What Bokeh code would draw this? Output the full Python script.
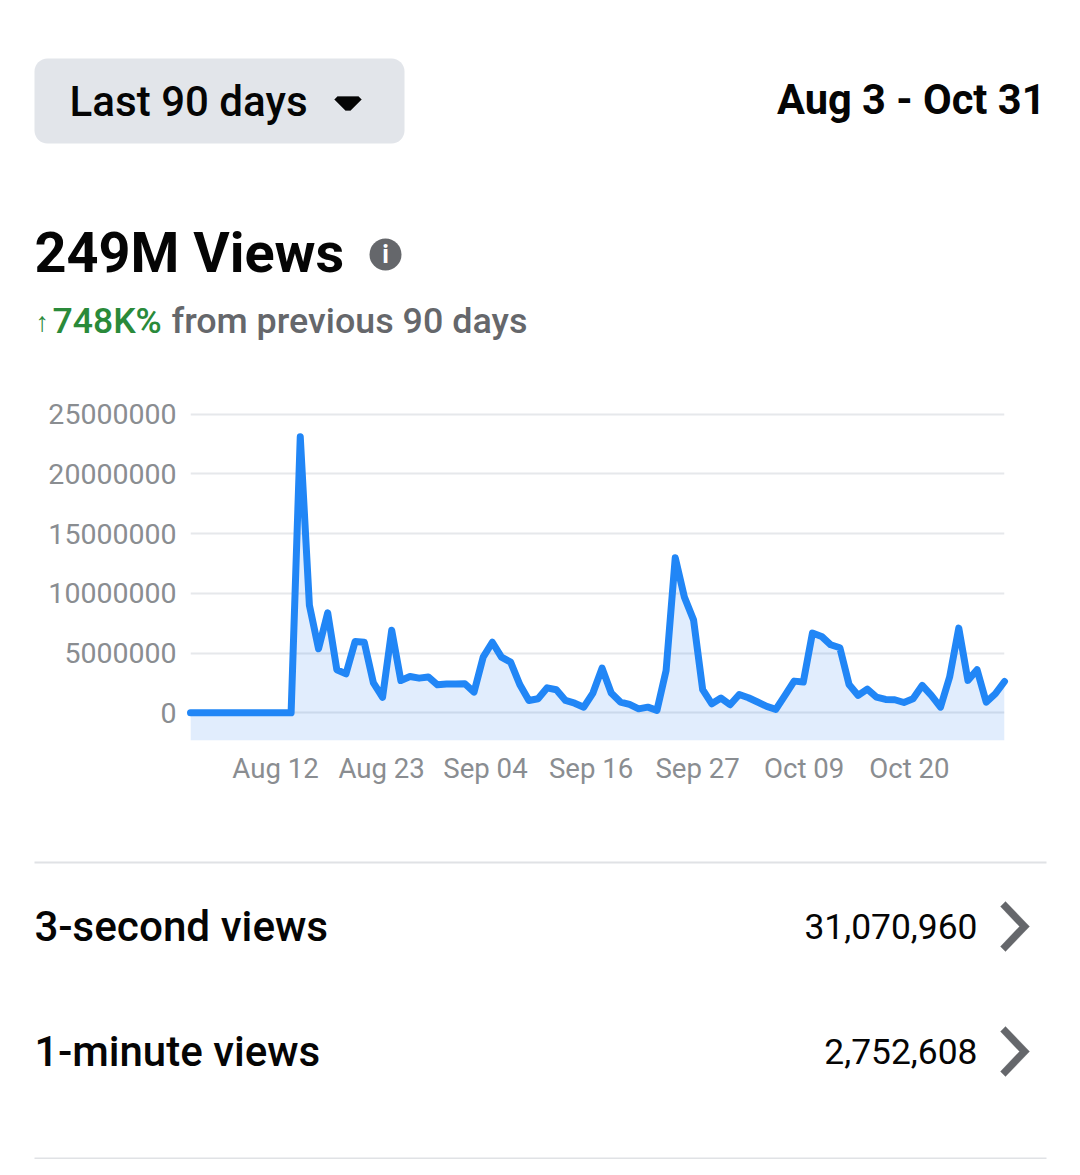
from bokeh.plotting import figure
from bokeh.layouts import column, row
from bokeh.embed import file_html
from bokeh.resources import INLINE
from bokeh.models import (Label, BoxAnnotation, PolyAnnotation, FixedTicker, Range1d,
                          NumeralTickFormatter)

# ---- data ----
views = [0,0,0,0,0,0,0,0,0,0,0,0,
         23100000,9000000,5360000,8370000,3600000,3260000,5970000,5900000,2500000,1300000,
         6900000,2700000,3040000,2900000,3000000,2340000,2400000,2400000,2430000,1730000,
         4660000,5900000,4660000,4240000,2370000,1030000,1170000,2090000,1930000,1030000,
         800000,470000,1650000,3740000,1650000,900000,700000,330000,470000,200000,
         3540000,12970000,9680000,7780000,1930000,750000,1230000,670000,1530000,1260000,
         900000,530000,280000,1450000,2650000,2570000,6670000,6390000,5690000,5440000,
         2370000,1450000,1980000,1310000,1120000,1090000,860000,1170000,2290000,1450000,
         470000,2990000,7090000,2710000,3600000,890000,1590000,2620000]
day_index = list(range(len(views)))
y_ticks = [0, 5000000, 10000000, 15000000, 20000000, 25000000]
x_tick_pos = [9.3, 20.9, 32.25, 43.8, 55.45, 67.1, 78.6]
x_tick_labels = ["Aug 12", "Aug 23", "Sep 04", "Sep 16", "Sep 27", "Oct 09", "Oct 20"]

W, H = 1064, 1159
BLUE = "#2186f6"
FONT = "Roboto"
area_floor = -2320000
FRAME_L, FRAME_T, FRAME_B, CHART_B = 190, 380, 740, 800

p = figure(width=W, height=CHART_B - FRAME_T, output_backend="svg", toolbar_location=None,
           x_range=Range1d(0, 89), y_range=Range1d(area_floor, 27810000),
           min_border_left=FRAME_L, min_border_right=W - 1004, min_border_top=0,
           min_border_bottom=CHART_B - FRAME_B,
           outline_line_color=None, background_fill_color="white", border_fill_color="white")

p.xgrid.visible = False
p.ygrid.ticker = FixedTicker(ticks=y_ticks)
p.ygrid.grid_line_color = "#e6e8eb"
p.ygrid.grid_line_width = 2

for ax in (p.xaxis[0], p.yaxis[0]):
    ax.axis_line_color = None
    ax.major_tick_line_color = None
    ax.minor_tick_line_color = None
    ax.major_label_text_font = FONT
    ax.major_label_text_color = "#8a8d91"
p.xaxis[0].major_label_text_font_size = "27.6px"
p.yaxis[0].major_label_text_font_size = "28.5px"
p.yaxis[0].ticker = FixedTicker(ticks=y_ticks)
p.yaxis[0].formatter = NumeralTickFormatter(format="0")
p.yaxis[0].major_label_standoff = 8
p.xaxis[0].ticker = FixedTicker(ticks=x_tick_pos)
p.xaxis[0].major_label_overrides = dict(zip(x_tick_pos, x_tick_labels))
p.xaxis[0].major_label_standoff = 5

p.varea(x=day_index, y1=[area_floor] * len(views), y2=views, fill_color="#1877f2", fill_alpha=0.13)
p.line(x=day_index, y=views, line_color=BLUE, line_width=7, line_join="round", line_cap="round",
       level="overlay")


def panel(y0, y1):
    f = figure(width=W, height=y1 - y0, output_backend="svg", toolbar_location=None,
               x_range=Range1d(0, W), y_range=Range1d(y1, y0),
               x_axis_location=None, y_axis_location=None,
               min_border=0, min_border_left=0, min_border_right=0, min_border_top=0, min_border_bottom=0,
               outline_line_color=None, background_fill_color="white", border_fill_color="white")
    f.xgrid.visible = False
    f.ygrid.visible = False
    return f


def txt(f, s, x, y, size, color="#050505", style="normal", align="left", font=FONT):
    f.add_layout(Label(x=x, y=y, text=s,
                       text_font=font, text_font_size=f"{size}px", text_color=color,
                       text_font_style=style, text_align=align, text_baseline="alphabetic"))


def box(f, x0, y0, x1, y1, color, radius=0):
    f.add_layout(BoxAnnotation(left=x0, right=x1, top=y0, bottom=y1,
                               fill_color=color, fill_alpha=1, line_color=None,
                               border_radius=radius, level="underlay"))


def poly(f, pts, color):
    f.add_layout(PolyAnnotation(xs=[a for a, _ in pts], ys=[b for _, b in pts],
                                fill_color=color, fill_alpha=1, line_color=color, line_width=1,
                                line_join="round"))


top = panel(0, FRAME_T)
box(top, 34, 58, 404, 143, "#e2e5ea", 13)
txt(top, "Last 90 days", 69, 101, 42, font="Roboto Medium")
poly(top, [(337, 96), (358, 96), (361, 99), (350, 110), (345, 110), (334, 99)], "#050505")
txt(top, "Aug 3 - Oct 31", 1045, 99, 41.6, style="bold", align="right")

txt(top, "249M Views", 34, 252, 55.8, style="bold")
box(top, 369, 238, 401, 270, "#65676b", 16)
txt(top, "i", 385, 254, 25, color="white", style="bold", align="center")

txt(top, "\u2191", 35, 321, 27, color="#2a8a3a")
txt(top, "748K%", 52, 320, 35.6, color="#2a8a3a", font="Roboto Medium")
txt(top, "from previous 90 days", 171, 320, 35.8, color="#65676b", font="Roboto Medium")

bot = panel(CHART_B, H)
box(bot, 34, 861, 1046, 863, "#e0e2e5")
box(bot, 34, 1157, 1046, 1159, "#e0e2e5")

txt(bot, "3-second views", 34, 926, 42.2, font="Roboto Medium")
txt(bot, "31,070,960", 977, 926, 35.4, align="right")
txt(bot, "1-minute views", 34, 1051, 42, font="Roboto Medium")
txt(bot, "2,752,608", 977, 1051, 35.4, align="right")


def chevron(cy):
    return [(1000, cy - 20), (1005, cy - 25), (1029, cy), (1005, cy + 25), (1000, cy + 20), (1019, cy)]


poly(bot, chevron(926), "#65676b")
poly(bot, chevron(1051), "#65676b")

page = column(row(top), p, row(bot), spacing=0)
open("out.html", "w").write(file_html(page, INLINE))
